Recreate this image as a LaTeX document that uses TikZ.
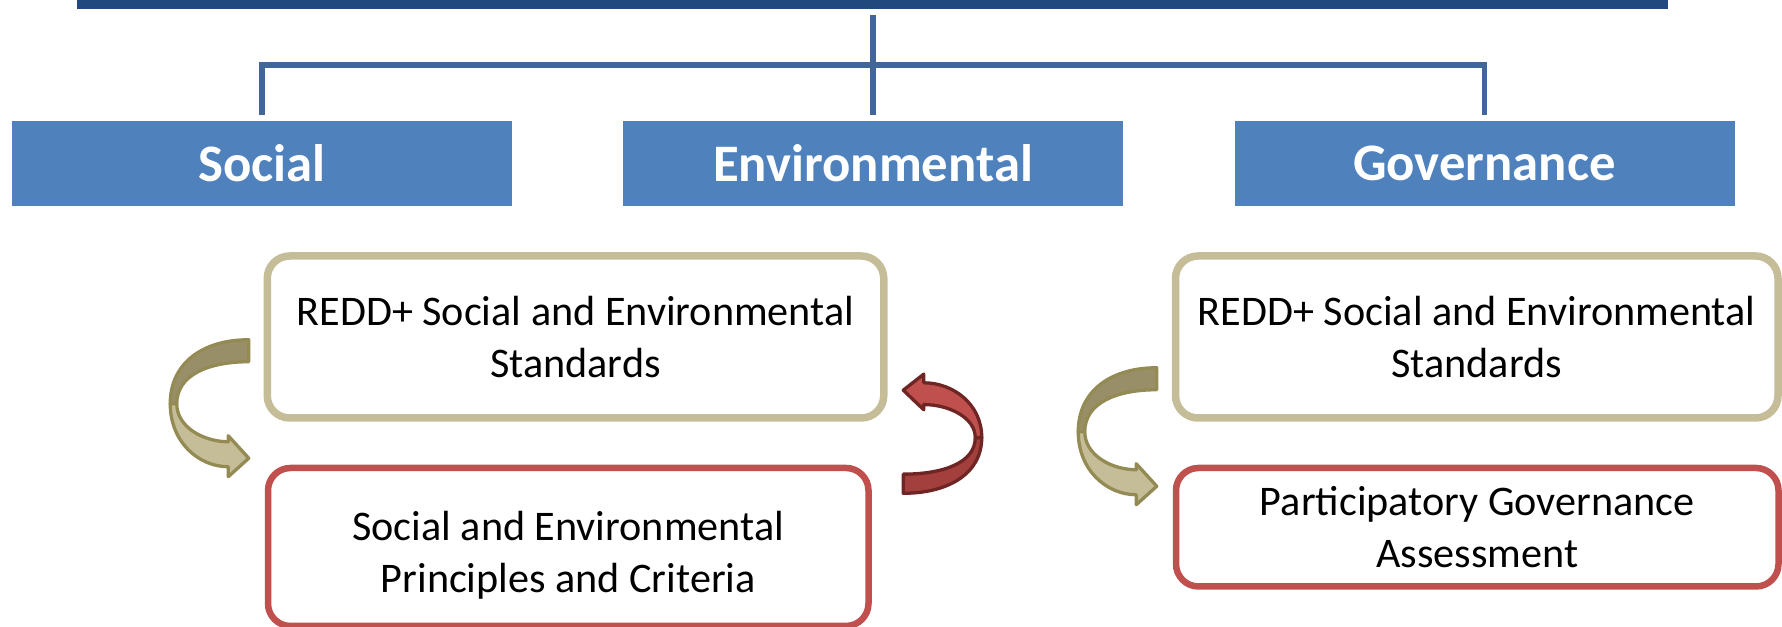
\documentclass[tikz,border=0pt]{standalone}
\usepackage{fontspec}
\setmainfont{Carlito}
\begin{document}
\begin{tikzpicture}[
    catbox/.style={fill=r79g129b189, text=white, inner sep=0pt,
      minimum width=10cm, minimum height=1.7cm,
      font=\fontsize{30}{36}\selectfont\bfseries},
    stdbox/.style={draw=r196g189b151, line width=0.15cm, fill=white,
      rounded corners=0.45cm, inner sep=0pt, align=center,
      font=\fontsize{24}{29.6}\selectfont},
    critbox/.style={stdbox, draw=r192g80b77, line width=0.13cm},
    link/.style={draw=r65g103b154, line width=0.115cm, line join=miter},
    tanarrow/.style={
      arrowback/.style={draw=r148g138b84, fill=r152g143b105},
      arrowfront/.style={draw=r148g138b84, fill=r196g189b151}},
    redarrow/.style={
      arrowback/.style={draw=r110g37b35, fill=r163g63b60},
      arrowfront/.style={draw=r110g37b35, fill=r192g80b77}},
    twistarrow/.pic={
      % back side, tail to turn
      \filldraw[arrowback, line width=0.066cm, line join=round]
        (0,1.30) .. controls (-0.90,1.30) and (-1.57,0.85) .. (-1.57,0.02)
        -- (-1.44,0.02) .. controls (-1.44,0.60) and (-0.80,0.86) .. (0,0.86) -- cycle;
      % front side, turn to head
      \filldraw[arrowfront, line width=0.066cm, line join=round]
        (-1.57,0.02) .. controls (-1.57,-0.75) and (-1.00,-1.24) .. (-0.41,-1.24)
        -- (-0.41,-1.44) -- (0,-1.07) -- (-0.41,-0.62) -- (-0.41,-0.74)
        .. controls (-0.90,-0.74) and (-1.44,-0.45) .. (-1.44,0.02) -- cycle;
    }]
    \useasboundingbox (0,0) rectangle (35.64,12.54);

    % Changing colors
    \definecolor{r33g73b125}{RGB}{33,73,125}%
    \definecolor{r65g103b154}{RGB}{65,103,154}%
    \definecolor{r79g129b189}{RGB}{79,129,189}%
    \definecolor{r196g189b151}{RGB}{196,189,151}%
    \definecolor{r152g143b105}{RGB}{152,143,105}%
    \definecolor{r148g138b84}{RGB}{148,138,84}%
    \definecolor{r192g80b77}{RGB}{192,80,77}%
    \definecolor{r163g63b60}{RGB}{163,63,60}%
    \definecolor{r110g37b35}{RGB}{110,37,35}%

    % Top bar
    \node[fill=r33g73b125, inner sep=0pt, minimum width=31.82cm, minimum height=0.5cm] (title) at (17.45,12.61) {};

    % Category boxes
    \node[catbox] (soc) at (5.24,9.27) {Social};
    \node[catbox] (env) at (17.46,9.27) {Environmental};
    \node[catbox] (gov) at (29.69,9.27) {Governance};

    % Drawing links from the bar to the categories
    \coordinate (bus) at (17.46,11.24);
    \draw[link, shorten <=0.12cm, shorten >=0.11cm] (title.south -| env.north) -- (env.north);
    \draw[link, shorten <=0.11cm, shorten >=0.11cm] (soc.north) |- (bus) -| (gov.north);

    % Standards and assessment boxes
    \node[stdbox, minimum width=12.33cm, minimum height=3.24cm] (stdl) at (11.51,5.80)
      {REDD+ Social and Environmental\\Standards};
    \node[critbox, minimum width=12.01cm, minimum height=3.16cm] (pcl) at (11.365,1.60)
      {\rule{0pt}{0.92cm}Social and Environmental\\Principles and Criteria};
    \node[stdbox, minimum width=12.05cm, minimum height=3.24cm] (stdr) at (29.535,5.80)
      {REDD+ Social and Environmental\\Standards};
    \node[critbox, minimum width=12.05cm, minimum height=2.37cm] (pga) at (29.545,1.995)
      {Participatory Governance\\Assessment};

    % Turning arrows between the boxes
    \pic[tanarrow] at ([shift={(-0.32,1.20)}]pcl.north west) {twistarrow};
    \pic[redarrow, rotate=180, yscale=0.87] at ([shift={(0.63,0.56)}]pcl.north east) {twistarrow};
    \pic[tanarrow] at ([shift={(-0.32,0.64)}]pga.north west) {twistarrow};
\end{tikzpicture}
\end{document}
